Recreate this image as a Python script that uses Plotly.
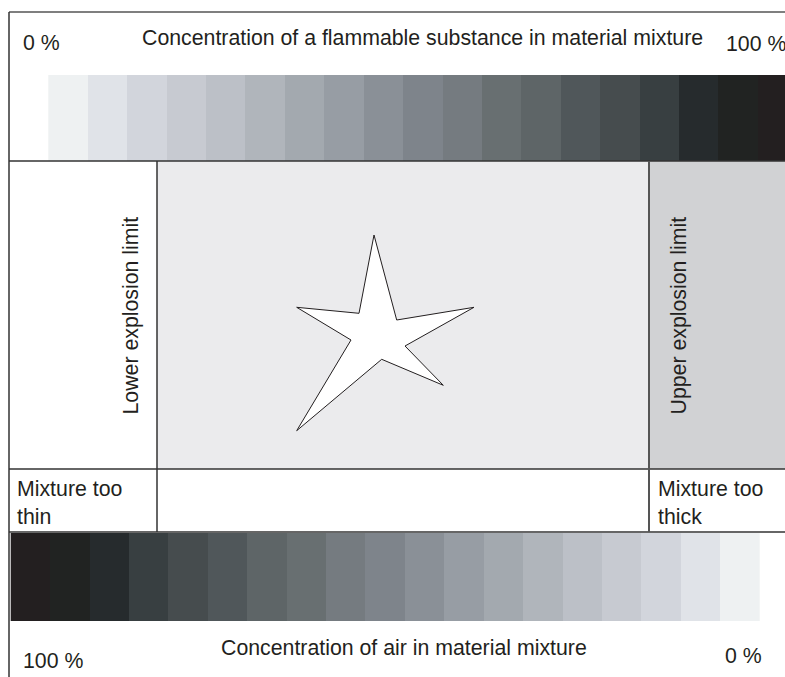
import plotly.graph_objects as go

# ---------------- data ----------------
W, H = 785, 677

# grey steps of the concentration scale, from 0 % (light) to 100 % (dark)
gray_steps = ["#eef1f2", "#e0e3e8", "#d2d5dc", "#c7cad1", "#bcc0c7", "#b0b5bb",
              "#a3a9af", "#979da4", "#8a9097", "#7e848b", "#757b80", "#686f71",
              "#5e6567", "#50575a", "#464c4e", "#383f41", "#262b2d", "#212322",
              "#231f20"]
n_steps = len(gray_steps)
flammable_level = list(range(n_steps))      # left -> right: 0 % ... 100 %
air_level = flammable_level[::-1]            # left -> right: 100 % ... 0 %

top_title = "Concentration of a flammable substance in material mixture"
bottom_title = "Concentration of air in material mixture"
pct_min, pct_max = "0 %", "100 %"
lower_label = "Lower explosion limit"
upper_label = "Upper explosion limit"
thin_label = "Mixture too<br>thin"
thick_label = "Mixture too<br>thick"

# star outline (diagram coordinates)
star_x = [374, 396.7, 474, 405, 443.3, 381.7, 296.7, 351, 296.7, 359, 374]
star_y = [235, 320, 307.3, 346, 385.3, 359.3, 430.7, 340, 307.3, 313.3, 235]

# ---------------- layout geometry ----------------
step_w = 39.42
top_x0, bot_x0 = 48.3, 10.7
top_band = [75, 161]
bot_band = [533, 621]
frame_x, frame_y = 9, 12
lel_x, uel_x = 157, 649
mid_top, mid_bot, row_bot = 161, 469, 532

TXT = "#231f20"
FONT = "Liberation Sans, Arial, Helvetica, sans-serif"
FS = 21.3

colorscale = [[i / (n_steps - 1), c] for i, c in enumerate(gray_steps)]

fig = go.Figure()

fig.add_trace(go.Heatmap(
    x=[top_x0 + k * step_w for k in range(n_steps + 1)], y=top_band,
    z=[flammable_level], colorscale=colorscale, zmin=0, zmax=n_steps - 1,
    showscale=False, hoverinfo="skip"))
fig.add_trace(go.Heatmap(
    x=[bot_x0 + k * step_w for k in range(n_steps + 1)], y=bot_band,
    z=[air_level], colorscale=colorscale, zmin=0, zmax=n_steps - 1,
    showscale=False, hoverinfo="skip"))

fig.add_trace(go.Scatter(
    x=star_x, y=star_y, mode="lines", fill="toself", fillcolor="white",
    line=dict(color="#231f20", width=1), hoverinfo="skip", showlegend=False))

shapes = [
    dict(type="rect", x0=lel_x, x1=uel_x, y0=mid_top, y1=mid_bot,
         fillcolor="#ebebed", line=dict(width=0), layer="below"),
    dict(type="rect", x0=uel_x, x1=W + 5, y0=mid_top, y1=mid_bot,
         fillcolor="#d1d2d4", line=dict(width=0), layer="below"),
]
dark = dict(color="#333333", width=1.5)
for y in (frame_y, mid_top, mid_bot, row_bot):
    shapes.append(dict(type="line", x0=frame_x, x1=W + 5, y0=y, y1=y,
                       line=dict(color="#555555" if y == frame_y else "#333333", width=1.5)))
shapes.append(dict(type="line", x0=frame_x, x1=frame_x, y0=frame_y, y1=H + 5, line=dark))
shapes.append(dict(type="line", x0=lel_x, x1=lel_x, y0=mid_top, y1=row_bot, line=dark))
shapes.append(dict(type="line", x0=uel_x, x1=uel_x, y0=mid_top, y1=row_bot,
                   line=dict(color="#555555", width=2)))

font = dict(family=FONT, size=FS, color=TXT)
ann = []
def A(text, x, y, xa="left", ya="middle", angle=0, align="left"):
    ann.append(dict(text=text, x=x, y=y, xref="x", yref="y", xanchor=xa, yanchor=ya,
                    textangle=angle, showarrow=False, font=font, align=align,
                    borderpad=0))

A(pct_min, 21.5, 43)
A(top_title, 422, 38, xa="center")
A(pct_max, 724.5, 44)
A(lower_label, 130.5, 316, xa="center", angle=-90)
A(upper_label, 678.5, 316, xa="center", angle=-90)
A(thin_label, 15.5, 503)
A(thick_label, 656.5, 503)
A(pct_max, 21.5, 661)
A(bottom_title, 404, 648, xa="center")
A(pct_min, 723.5, 656)

fig.update_layout(
    width=W, height=H, margin=dict(l=0, r=0, t=0, b=0),
    paper_bgcolor="white", plot_bgcolor="white",
    xaxis=dict(range=[0, W], visible=False, fixedrange=True),
    yaxis=dict(range=[H, 0], visible=False, fixedrange=True),
    shapes=shapes, annotations=ann, showlegend=False)

fig.write_html("out.html", config={"displayModeBar": False},
               post_script="document.body.style.margin='0';document.body.style.overflow='hidden';")
